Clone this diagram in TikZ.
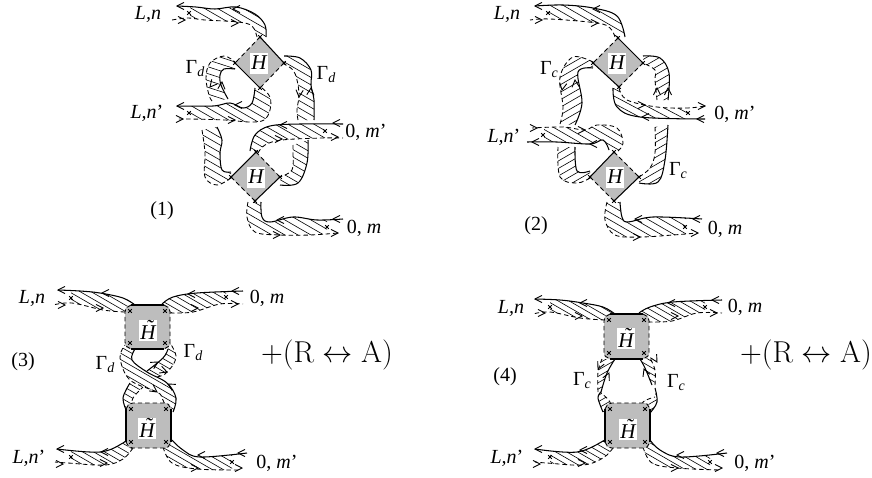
\documentclass[tikz,border=0pt]{standalone}
\usepackage[no-math]{fontspec}
\setmainfont{Liberation Serif}
\definecolor{hgrey}{gray}{0.74}
\newcommand{\sub}[1]{\raisebox{-3pt}{\fontsize{14}{14}\selectfont\textit{#1}}}
\newcommand{\GamD}{\textup{Γ}\sub{d}}
\newcommand{\GamC}{\textup{Γ}\sub{c}}
\newcommand{\tH}{\makebox[0pt][l]{\hspace{5.5pt}\raisebox{4.5pt}{\textit{˜}}}\textit{H}}
% #1 angle #2 spacing #3 xmin #4 xmax #5 solid points #6 dashed points (reversed)
\newcommand{\rib}[6]{%
  \fill[white] plot[smooth,tension=.6] coordinates {#5} -- plot[smooth,tension=.6] coordinates {#6} -- cycle;
  \begin{scope}
    \clip (#3,0) rectangle (#4,477);
    \clip plot[smooth,tension=.6] coordinates {#5} -- plot[smooth,tension=.6] coordinates {#6} -- cycle;
    \pgfmathsetmacro\hdc{#2/cos(#1)}
    \pgfmathsetmacro\htn{-872*tan(#1)}
    \pgfmathtruncatemacro\hn{1800/\hdc}
    \foreach \k in {0,...,\hn}{
      \pgfmathsetmacro\hc{-650+\k*\hdc}
      \draw[hatchline] (0,\hc) -- (872,\hc+\htn);
    }
  \end{scope}
  \draw[solidline] plot[smooth,tension=.6] coordinates {#5};
  \draw[dashline] plot[smooth,tension=.6] coordinates {#6};
}
\newcommand{\ar}[3]{\draw[tipline,shift={(#1,#2)},rotate=#3] (-7,3.6)--(0,0)--(-7,-3.6);}
\newcommand{\st}[2]{\draw[starline,shift={(#1,#2)}] (-1.8,-1.8)--(1.8,1.8) (-1.8,1.8)--(1.8,-1.8);}
\newcommand{\dia}[9]{% tx ty rx ry bx by lx ly mode
  \fill[hgrey] (#1,#2)--(#3,#4)--(#5,#6)--(#7,#8)--cycle;
  \ifnum#9=0
   \draw[solidline] (#1,#2)--(#3,#4) (#7,#8)--(#5,#6);
   \draw[dashline] (#1,#2)--(#7,#8) (#3,#4)--(#5,#6);
  \else
   \draw[solidline] (#1,#2)--(#7,#8) (#3,#4)--(#5,#6);
   \draw[dashline] (#1,#2)--(#3,#4) (#7,#8)--(#5,#6);
  \fi
  \st{#1}{#2}\st{#3}{#4}\st{#5}{#6}\st{#7}{#8}}
% box: mode 0 solid top/bottom, mode 1 solid left/right
\newcommand{\bx}[5]{%
  \fill[hgrey,rounded corners=5pt] (#1,#2) rectangle (#3,#4);
  \ifnum#5=0
   \draw[solidline] (#1+6,#2)--(#3-6,#2) (#1+6,#4)--(#3-6,#4);
   \draw[dashline] (#1+6,#2)--(#1+1,#2+3)--(#1,#2+7)--(#1,#4-7)--(#1+1,#4-3)--(#1+6,#4)
                   (#3-6,#2)--(#3-1,#2+3)--(#3,#2+7)--(#3,#4-7)--(#3-1,#4-3)--(#3-6,#4);
  \else
   \draw[solidline] (#1,#2+6)--(#1,#4-6) (#3,#2+6)--(#3,#4-6);
   \draw[dashline] (#1,#2+6)--(#1+3,#2+1)--(#1+7,#2)--(#3-7,#2)--(#3-3,#2+1)--(#3,#2+6)
                   (#1,#4-6)--(#1+3,#4-1)--(#1+7,#4)--(#3-7,#4)--(#3-3,#4-1)--(#3,#4-6);
  \fi
  \st{#1+5}{#2+6}\st{#3-5}{#2+6}\st{#1+5}{#4-6}\st{#3-5}{#4-6}}
\tikzset{
  solidline/.style={line width=1.05pt,line join=round},
  dashline/.style={line width=.85pt,dash pattern=on 4.4pt off 3pt},
  hatchline/.style={line width=.6pt},
  tipline/.style={line width=.9pt},
  starline/.style={line width=.95pt},
  lab/.style={font=\fontsize{20}{21}\selectfont,inner sep=0pt},
  hbox/.style={fill=white,inner sep=0pt,minimum width=18pt,minimum height=21pt,font=\fontsize{21}{21}\selectfont\itshape},
  plusra/.style={inner sep=0pt,scale=1.215,font=\fontsize{24.88}{26}\selectfont}
}
\begin{document}
\begin{tikzpicture}[x=1pt,y=-1pt]
\useasboundingbox (0,0) rectangle (872,477);
%% ---------- panel 1
\rib{-30}{6.5}{190}{872}{(177,6) (196,7) (215,9) (236,7) (255,14) (265,25) (266,37)}{(257,37) (252,26) (238,22) (205,20) (188,18) (172,20)}
\rib{-30}{6.5}{0}{872}{(284,56) (300,58) (311,70) (311,85) (314,100) (314,120)}{(298,120) (297,110) (299,95) (297,80) (293,70) (284,64)}
\rib{-18}{6.5}{0}{872}{(235,69) (224,69) (220,75) (221,85) (228,99)}{(212,101) (209,95) (206,78) (210,63) (224,56) (235,62)}
\rib{-30}{6.5}{190}{872}{(177,106) (213,106) (230,103) (243,108) (252,103) (255,88)}{(262,88) (270,97) (270,110) (264,120) (250,122) (225,120) (190,119) (177,119)}
\rib{-30}{6.5}{0}{325}{(343,124) (300,124) (270,126) (255,135) (250,151)}{(258,153) (265,145) (282,140) (322,138) (343,138)}
\rib{-30}{6.5}{0}{872}{(217,127) (222,140) (220,153) (222,170) (231,172)}{(231,178) (217,185) (205,177) (205,153) (202,130)}
\rib{-30}{6.5}{0}{872}{(280,185) (298,183) (307,163) (308,140)}{(293,145) (293,153) (292,170) (280,177)}
\rib{-30}{6.5}{0}{327}{(343,219) (317,220) (293,217) (270,222) (262,217) (261,202)}{(248,202) (247,217) (255,232) (280,235) (310,235) (338,233)}
\ar{177}{6}{180}\ar{233}{9}{180}\ar{185}{20}{0}\ar{238}{23}{0}
\ar{311}{88}{85}\ar{299}{97}{-95}
\ar{210}{87}{-130}\ar{222}{82}{85}
\ar{177}{106}{180}\ar{235}{105}{180}\ar{183}{119}{0}\ar{235}{120}{0}
\ar{333}{123}{180}\ar{280}{125}{180}\ar{282}{139}{0}\ar{338}{137}{0}
\ar{333}{219}{180}\ar{277}{220}{180}\ar{280}{235}{0}\ar{338}{233}{0}
\st{189}{13}\st{189}{113}\st{325}{131}\st{327}{227}
\dia{260}{37}{284}{63}{260}{88}{235}{63}{0}
\dia{256}{152}{280}{177}{255}{201}{231}{177}{1}
\node[hbox] (h1a) at (259,63) {H};
\node[hbox] (h1b) at (256,177) {H};
\node[lab] (l1a) at (148,14) {\textit{L,n}};
\node[lab] (l1b) at (147,113) {\textit{L,n}’};
\node[lab] (l1c) at (366,132) {0, \textit{m}’};
\node[lab] (l1d) at (364,228) {0, \textit{m}};
\node[lab] (g1a) at (195,69) {\GamD};
\node[lab] (g1b) at (326,75) {\GamD};
\node[lab] (n1) at (162,211) {(1)};
%% ---------- panel 2
\rib{-30}{6.5}{549}{872}{(535,6) (563,5) (593,8) (617,16) (625,37)}{(615,37) (610,28) (597,23) (550,19) (530,20)}
\rib{30}{6.5}{0}{872}{(643,56) (660,58) (669,73) (668,100)}{(657,100) (655,80) (655,70) (643,63)}
\rib{30}{6.5}{0}{872}{(593,68) (578,72) (582,103) (575,125)}{(560,124) (563,107) (560,77) (573,57) (593,62)}
\rib{-28}{6.5}{0}{688}{(705,119) (640,117) (617,107) (613,88)}{(619,88) (627,100) (657,107) (687,108) (705,106)}
\rib{-30}{6.5}{544}{872}{(527,142) (557,142) (590,144) (603,140) (609,150)}{(618,151) (623,143) (617,128) (597,125) (585,130) (563,127) (532,128)}
\rib{30}{6.5}{0}{872}{(575,147) (577,171) (590,171)}{(590,178) (577,183) (560,177) (558,147)}
\rib{30}{6.5}{0}{872}{(639,183) (658,182) (665,160) (668,125)}{(655,127) (655,153) (650,168) (639,177)}
\rib{-30}{6.5}{0}{686}{(702,219) (653,217) (628,222) (622,217) (620,202)}{(607,202) (605,220) (615,235) (640,237) (673,235) (697,233)}
\ar{535}{6}{180}\ar{593}{9}{180}\ar{542}{20}{0}\ar{598}{23}{0}
\ar{668}{88}{90}\ar{657}{88}{90}
\ar{697}{119}{180}\ar{642}{117}{180}\ar{645}{105}{0}\ar{705}{106}{0}
\ar{562}{90}{-100}\ar{575}{80}{95}
\ar{532}{142}{180}\ar{590}{144}{180}\ar{537}{128}{0}\ar{585}{130}{0}
\ar{635}{219}{180}\ar{693}{219}{180}\ar{640}{237}{0}\ar{698}{233}{0}
\st{548}{13}\st{688}{113}\st{543}{135}\st{685}{227}
\dia{618}{38}{643}{63}{619}{87}{593}{63}{0}
\dia{614}{152}{639}{177}{614}{201}{590}{177}{1}
\node[hbox] (h2a) at (617,63) {H};
\node[hbox] (h2b) at (615,177) {H};
\node[lab] (l2a) at (507,14) {\textit{L,n}};
\node[lab] (l2b) at (504,137) {\textit{L,n}’};
\node[lab] (l2c) at (735,114) {0, \textit{m}’};
\node[lab] (l2d) at (725,229) {0, \textit{m}};
\node[lab] (g2a) at (549,70) {\GamC};
\node[lab] (g2b) at (678,171) {\GamC};
\node[lab] (n2) at (536,226) {(2)};
%% ---------- panel 3
\rib{-30}{5.5}{71}{872}{(58,290) (80,291) (100,293) (123,298) (135,305)}{(125,312) (103,310) (72,303) (53,305)}
\rib{-30}{5.5}{0}{226}{(243,291) (197,293) (173,297) (162,304)}{(170,313) (193,312) (220,304) (243,304)}
\rib{-30}{5.5}{71}{872}{(57,449) (100,452) (123,443) (127,438)}{(133,448) (123,459) (105,465) (68,463) (55,462)}
\rib{-30}{5.5}{0}{232}{(247,453) (200,457) (183,450) (172,440)}{(163,447) (172,463) (197,469) (240,470)}
\rib{-30}{5.5}{0}{872}{(168,349) (163,358) (147,371)}{(150,378) (165,374) (176,358) (170,343)}
\rib{-30}{5.5}{0}{872}{(130,383) (123,398) (127,412)}{(131,408) (133,398) (143,387)}
\rib{-30}{5.5}{0}{872}{(135,349) (132,360) (147,372) (167,383) (176,398) (173,412)}{(167,410) (162,398) (157,392) (130,380) (120,358) (125,345)}
\ar{58}{290}{180}\ar{102}{293}{180}\ar{65}{305}{0}\ar{103}{308}{0}
\ar{188}{294}{180}\ar{232}{291}{180}\ar{198}{308}{0}\ar{238}{304}{0}
\ar{57}{449}{180}\ar{101}{452}{180}\ar{63}{464}{0}\ar{107}{463}{0}
\ar{198}{455}{180}\ar{238}{453}{180}\ar{198}{468}{0}\ar{242}{468}{0}
\ar{158}{362}{30}\ar{167}{372}{-20}\ar{157}{392}{-35}\ar{168}{384}{150}
\st{71}{298}\st{226}{297}\st{71}{457}\st{232}{462}
\bx{125}{305}{170}{349}{0}
\bx{126}{403}{171}{448}{1}
\node[hbox] (h3a) at (148,330) {\tH};
\node[hbox] (h3b) at (147,428) {\tH};
\node[lab] (l3a) at (32,298) {\textit{L,n}};
\node[lab] (l3b) at (29,458) {\textit{L,n}’};
\node[lab] (l3c) at (267,298) {0, \textit{m}};
\node[lab] (l3d) at (277,463) {0, \textit{m}’};
\node[lab] (g3a) at (105,365) {\GamD};
\node[lab] (g3b) at (193,353) {\GamD};
\node[lab] (n3) at (23,362) {(3)};
\node[plusra] (r3) at (327,355) {$+(\mathrm{R}\leftrightarrow\mathrm{A})$};
%% ---------- panel 4
\rib{-30}{5.5}{550}{872}{(535,299) (560,300) (583,303) (603,307) (615,314)}{(605,320) (580,318) (550,312) (533,314)}
\rib{-30}{5.5}{0}{705}{(722,300) (673,302) (650,307) (639,313)}{(648,322) (672,321) (697,313) (722,313)}
\rib{-30}{5.5}{550}{872}{(535,449) (577,452) (605,440) (607,438)}{(613,448) (603,458) (583,465) (547,463) (535,462)}
\rib{-30}{5.5}{0}{710}{(727,453) (680,457) (660,450) (650,440)}{(643,447) (652,463) (677,468) (720,470)}
\rib{30}{5.5}{0}{872}{(615,359) (607,373) (601,392)}{(598,392) (598,372) (602,359)}
\rib{30}{5.5}{0}{872}{(601,392) (598,398) (603,412)}{(610,412) (610,402) (600,392)}
\rib{-30}{5.5}{0}{872}{(640,359) (645,368) (652,385)}{(655,385) (655,370) (650,358)}
\rib{30}{5.5}{0}{872}{(655,388) (657,402) (650,413)}{(643,412) (643,402) (655,397)}
\ar{535}{299}{180}\ar{580}{303}{180}\ar{545}{313}{0}\ar{582}{316}{0}
\ar{668}{303}{180}\ar{712}{300}{180}\ar{678}{316}{0}\ar{717}{313}{0}
\ar{535}{449}{180}\ar{580}{450}{180}\ar{540}{464}{0}\ar{585}{463}{0}
\ar{677}{455}{180}\ar{717}{453}{180}\ar{678}{468}{0}\ar{722}{468}{0}
\ar{598}{369}{-115}\ar{609}{373}{65}\ar{644}{369}{110}\ar{657}{362}{-60}
\st{550}{307}\st{705}{307}\st{550}{457}\st{710}{462}
\bx{604}{314}{649}{359}{0}
\bx{605}{403}{650}{448}{1}
\node[hbox] (h4a) at (626,338) {\tH};
\node[hbox] (h4b) at (628,429) {\tH};
\node[lab] (l4a) at (511,308) {\textit{L,n}};
\node[lab] (l4b) at (507,458) {\textit{L,n}’};
\node[lab] (l4c) at (745,307) {0, \textit{m}};
\node[lab] (l4d) at (755,463) {0, \textit{m}’};
\node[lab] (g4a) at (582,381) {\GamC};
\node[lab] (g4b) at (676,383) {\GamC};
\node[lab] (n4) at (505,377) {(4)};
\node[plusra] (r4) at (806,355) {$+(\mathrm{R}\leftrightarrow\mathrm{A})$};
\end{tikzpicture}
\end{document}
